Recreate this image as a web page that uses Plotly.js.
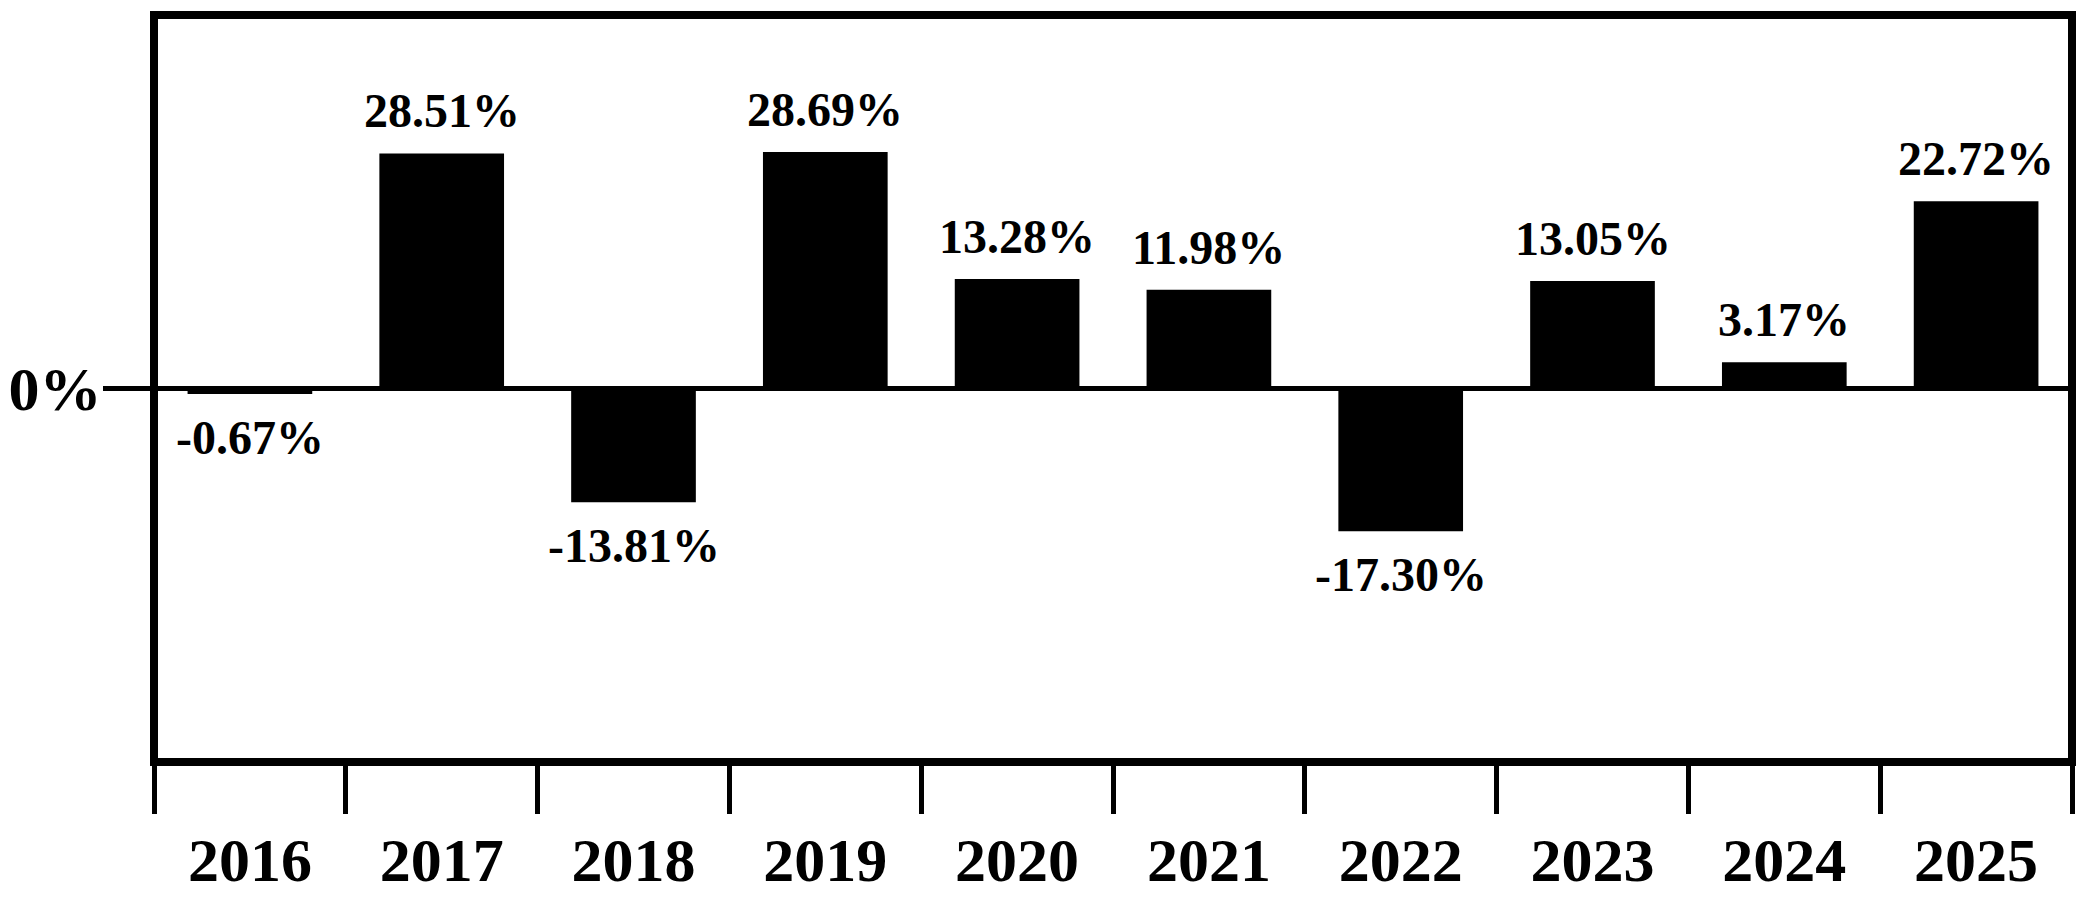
<!DOCTYPE html>
<html>
<head>
<meta charset="utf-8">
<script src="https://cdn.plot.ly/plotly-3.0.1.min.js"></script>
<style>
html,body{margin:0;padding:0;background:#fff;}
#chart{width:2083px;height:900px;}
</style>
</head>
<body>
<div id="chart"></div>
<script>
const years = ['2016','2017','2018','2019','2020','2021','2022','2023','2024','2025'];
const returns = [-0.67, 28.51, -13.81, 28.69, 13.28, 11.98, -17.30, 13.05, 3.17, 22.72];
const yTickVals = [0];
const yTickText = ['0%'];

const FONT = 'Liberation Serif, Times New Roman, serif';

const labels = returns.map(v => v.toFixed(2) + '%');

const trace = {
  type: 'bar',
  x: years,
  y: returns,
  marker: {color: '#000000', line: {width: 0}},
  hoverinfo: 'skip'
};

const annotations = returns.map((v, i) => ({
  x: i,
  y: v,
  xref: 'x',
  yref: 'y',
  text: labels[i],
  showarrow: false,
  xanchor: 'center',
  yanchor: v >= 0 ? 'bottom' : 'top',
  yshift: v >= 0 ? 14 : -15,
  font: {family: FONT, size: 48, color: '#000', weight: 700}
}));

const layout = {
  width: 2083,
  height: 900,
  margin: {l: 154, r: 11, t: 15, b: 138},
  paper_bgcolor: '#ffffff',
  plot_bgcolor: '#ffffff',
  showlegend: false,
  bargap: 0.35,
  font: {family: FONT, color: '#000', weight: 700},
  xaxis: {
    type: 'category',
    range: [-0.5, years.length - 0.5],
    tickson: 'boundaries',
    ticks: 'outside',
    ticklen: 51,
    tickwidth: 5,
    tickcolor: '#000',
    tickangle: 0,
    ticklabelstandoff: 56,
    showgrid: false,
    showline: false,
    zeroline: false,
    tickfont: {family: FONT, size: 62, color: '#000', weight: 700},
    fixedrange: true
  },
  yaxis: {
    range: [-45.3, 45.3],
    tickmode: 'array',
    tickvals: yTickVals,
    ticktext: yTickText,
    ticks: 'outside',
    ticklen: 50,
    tickwidth: 5,
    tickcolor: '#000',
    showgrid: false,
    showline: false,
    zeroline: true,
    zerolinecolor: '#000',
    zerolinewidth: 5,
    tickfont: {family: FONT, size: 62, color: '#000', weight: 700},
    ticklabelstandoff: -11,
    fixedrange: true
  },
  shapes: [{
    type: 'rect', xref: 'paper', yref: 'paper',
    x0: 0, x1: 1, y0: 0, y1: 1,
    line: {color: '#000', width: 8},
    fillcolor: 'rgba(0,0,0,0)',
    layer: 'above'
  }],
  annotations: annotations
};

Plotly.newPlot('chart', [trace], layout, {displayModeBar: false, staticPlot: true});
</script>
</body>
</html>
